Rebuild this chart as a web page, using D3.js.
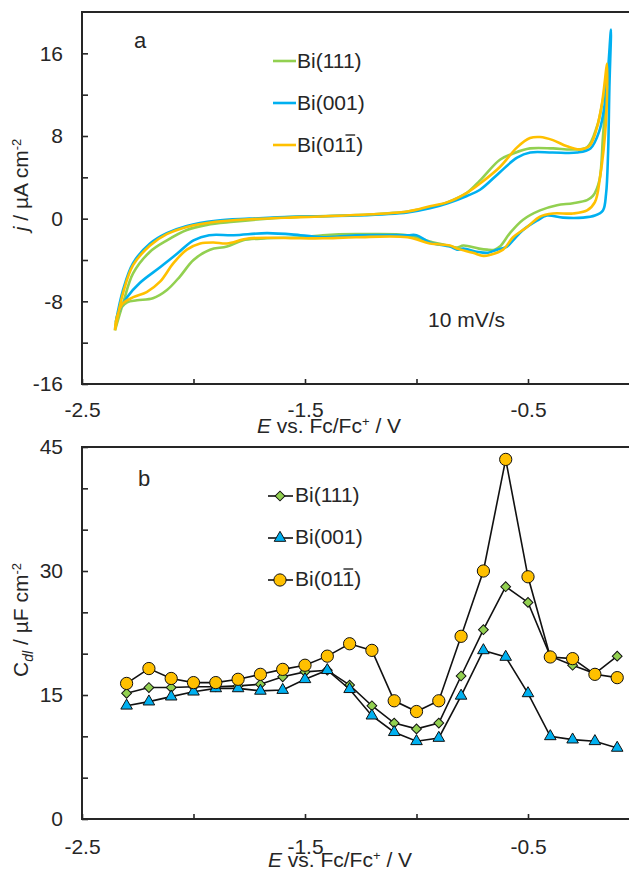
<!DOCTYPE html>
<html><head><meta charset="utf-8">
<script src="https://cdn.jsdelivr.net/npm/d3@7"></script>
<style>
body{margin:0;background:#fff;}
svg{display:block;}
text{font-family:"Liberation Sans",Arial,sans-serif;fill:#262626;}
</style></head><body>
<svg id="c" width="629" height="870"></svg>
<script>
// ---------- data ----------
const seriesNames = ["Bi(111)", "Bi(001)", "Bi(011)"];
const seriesColors = ["#92D050", "#00B0F0", "#FFC000"];

// Panel a: cyclic voltammograms [E (V), j (µA cm-2)]
const cvBi111 = [[-2.352,-10.8],[-2.316,-8.2],[-2.271,-5.3],[-2.195,-3.2],[-2.119,-2.1],[-2.03,-1.1],[-1.94,-0.6],[-1.82,-0.3],[-1.67,0.0],[-1.52,0.2],[-1.27,0.35],[-1.04,0.7],[-0.94,1.1],[-0.86,1.6],[-0.774,2.5],[-0.715,3.7],[-0.626,5.7],[-0.567,6.3],[-0.491,6.8],[-0.388,6.8],[-0.30,6.7],[-0.235,6.9],[-0.191,8.9],[-0.164,11.5],[-0.148,13.5],[-0.142,14.6],
  [-0.150,12.0],[-0.164,7.9],[-0.18,3.7],[-0.209,2.2],[-0.235,1.8],[-0.298,1.5],[-0.37,1.3],[-0.446,0.8],[-0.522,-0.1],[-0.581,-1.4],[-0.626,-2.7],[-0.65,-3.0],[-0.684,-3.0],[-0.72,-2.9],[-0.79,-2.6],[-0.818,-2.8],[-0.86,-2.6],[-0.94,-2.2],[-1.04,-1.6],[-1.27,-1.5],[-1.42,-1.6],[-1.52,-1.8],[-1.67,-1.9],[-1.78,-2.1],[-1.85,-2.7],[-1.926,-3.0],[-2.0,-4.0],[-2.061,-5.6],[-2.119,-6.9],[-2.182,-7.7],[-2.253,-7.9],[-2.298,-8.1],[-2.339,-9.2],[-2.352,-10.8]];
const cvBi001 = [[-2.348,-10.0],[-2.316,-6.9],[-2.271,-4.3],[-2.195,-2.4],[-2.12,-1.4],[-2.03,-0.7],[-1.90,-0.2],[-1.75,0.0],[-1.52,0.2],[-1.27,0.3],[-1.04,0.6],[-0.94,1.0],[-0.86,1.5],[-0.774,2.2],[-0.715,2.8],[-0.626,4.5],[-0.549,5.9],[-0.49,6.4],[-0.39,6.4],[-0.28,6.4],[-0.22,6.8],[-0.18,8.5],[-0.155,11.2],[-0.141,14.4],[-0.128,18.3],
  [-0.135,12.7],[-0.141,6.3],[-0.15,2.4],[-0.164,0.8],[-0.20,0.3],[-0.253,0.1],[-0.343,0.1],[-0.415,0.3],[-0.46,-0.2],[-0.522,-1.1],[-0.567,-2.1],[-0.594,-2.7],[-0.639,-3.0],[-0.68,-3.3],[-0.73,-3.2],[-0.79,-2.9],[-0.818,-3.0],[-0.85,-2.7],[-0.94,-2.3],[-1.0,-1.6],[-1.04,-1.6],[-1.27,-1.6],[-1.42,-1.8],[-1.52,-1.6],[-1.67,-1.4],[-1.82,-1.6],[-1.93,-1.6],[-2.00,-2.1],[-2.074,-3.4],[-2.15,-4.7],[-2.24,-6.2],[-2.298,-7.6],[-2.339,-9.2],[-2.348,-10.0]];
const cvBi011 = [[-2.352,-10.8],[-2.316,-7.2],[-2.271,-4.5],[-2.195,-2.6],[-2.12,-1.5],[-2.03,-0.8],[-1.90,-0.3],[-1.75,-0.05],[-1.52,0.15],[-1.27,0.35],[-1.04,0.7],[-0.94,1.2],[-0.86,1.6],[-0.774,2.5],[-0.715,3.4],[-0.626,5.0],[-0.549,6.9],[-0.491,7.8],[-0.446,7.9],[-0.388,7.6],[-0.325,7.0],[-0.267,6.7],[-0.222,7.1],[-0.191,8.8],[-0.168,11.2],[-0.155,13.4],[-0.146,15.0],
  [-0.150,9.5],[-0.177,4.0],[-0.20,1.6],[-0.235,0.8],[-0.298,0.5],[-0.388,0.5],[-0.446,0.2],[-0.504,-0.8],[-0.567,-1.8],[-0.612,-3.0],[-0.67,-3.5],[-0.70,-3.6],[-0.747,-3.3],[-0.818,-2.9],[-0.85,-2.6],[-0.94,-2.4],[-1.04,-1.8],[-1.27,-1.8],[-1.42,-1.9],[-1.52,-1.9],[-1.75,-1.9],[-1.85,-2.4],[-1.91,-2.3],[-1.97,-2.4],[-2.03,-3.0],[-2.09,-4.3],[-2.15,-6.1],[-2.21,-7.1],[-2.27,-7.6],[-2.316,-8.2],[-2.343,-9.5],[-2.352,-10.8]];

// Panel b: double-layer capacitance (µF cm-2)
const potentialB = [-2.3,-2.2,-2.1,-2.0,-1.9,-1.8,-1.7,-1.6,-1.5,-1.4,-1.3,-1.2,-1.1,-1.0,-0.9,-0.8,-0.7,-0.6,-0.5,-0.4,-0.3,-0.2,-0.1];
const cdlBi111 = [15.2,15.9,15.9,16.0,16.0,16.1,16.3,17.2,17.8,18.0,16.2,13.7,11.6,10.9,11.6,17.3,22.9,28.1,26.2,19.7,18.6,17.6,19.7];
const cdlBi001 = [13.7,14.2,14.8,15.4,15.8,15.8,15.5,15.6,16.9,18.0,15.7,12.5,10.5,9.4,9.8,14.9,20.4,19.6,15.2,10.0,9.6,9.4,8.6];
const cdlBi011 = [16.4,18.2,17.0,16.5,16.5,16.9,17.5,18.1,18.6,19.7,21.2,20.4,14.3,13.0,14.3,22.1,30.0,43.5,29.3,19.6,19.4,17.5,17.1];

const xTicks = [-2.5,-2.0,-1.5,-1.0,-0.5];
const xLabels = [-2.5,-1.5,-0.5];
const yTicksA = [-16,-12,-8,-4,0,4,8,12,16];
const yLabelsA = [-16,-8,0,8,16];
const yTicksB = [0,5,10,15,20,25,30,35,40,45];
const yLabelsB = [0,15,30,45];

// ---------- drawing ----------
const FONT = 21;
const INK = "#262626";
const svg = d3.select("#c");
const x = d3.scaleLinear().domain([-2.5, 0]).range([82, 639.5]);
const yA = d3.scaleLinear().domain([-16, 20]).range([384, 12]);
const yB = d3.scaleLinear().domain([0, 45]).range([819, 447]);

function styleText(sel){ sel.attr("font-family",'"Liberation Sans",Arial,sans-serif').attr("font-size",FONT).attr("fill",INK); }

function frame(y, yTicks, yLabels, xPad){
  const [b, t] = y.range();
  svg.append("rect").attr("x", x(-2.5)).attr("y", t).attr("width", x(0)-x(-2.5)).attr("height", b-t)
    .attr("fill","none").attr("stroke",INK).attr("stroke-width",2);
  const ga = svg.append("g").attr("transform",`translate(${x(-2.5)},0)`)
    .call(d3.axisLeft(y).tickValues(yTicks).tickSizeInner(-6).tickSizeOuter(0).tickPadding(19)
      .tickFormat(d => yLabels.includes(d) ? String(d) : ""));
  ga.attr("font-family",null).attr("font-size",null);
  ga.select(".domain").remove();
  ga.selectAll("line").attr("stroke",INK).attr("stroke-width",1.6);
  ga.selectAll("text").call(styleText);
  const gb = svg.append("g").attr("transform",`translate(0,${b})`)
    .call(d3.axisBottom(x).tickValues(xTicks).tickSizeInner(-5).tickSizeOuter(0).tickPadding(xPad)
      .tickFormat(d => xLabels.includes(d) ? d.toFixed(1) : ""));
  gb.attr("font-family",null).attr("font-size",null);
  gb.select(".domain").remove();
  gb.selectAll("line").attr("stroke",INK).attr("stroke-width",1.6);
  gb.selectAll("text").call(styleText);
}

function xTitle(cx, baseline){
  const t = svg.append("text").attr("x",cx).attr("y",baseline).attr("text-anchor","middle").call(styleText);
  t.append("tspan").attr("font-style","italic").text("E");
  t.append("tspan").text(" vs. Fc/Fc");
  t.append("tspan").attr("font-size",13).attr("dy",-7).text("+");
  t.append("tspan").attr("dy",7).text(" / V");
}

function overlineLegend(textSel, idx){
  const node = textSel.node();
  const p0 = node.getStartPositionOfChar(idx), p1 = node.getEndPositionOfChar(idx);
  const yb = +textSel.attr("y");
  svg.append("line").attr("x1",p0.x+1).attr("x2",p1.x-1).attr("y1",yb-17).attr("y2",yb-17)
    .attr("stroke",INK).attr("stroke-width",1.4);
}

// ===== Panel a =====
frame(yA, yTicksA, yLabelsA, 18);
const lineA = d3.line().x(d => x(d[0])).y(d => yA(d[1])).curve(d3.curveCatmullRom.alpha(0.5));
[cvBi111, cvBi001, cvBi011].forEach((cv, i) => {
  svg.append("path").attr("d", lineA(cv)).attr("fill","none")
    .attr("stroke", seriesColors[i]).attr("stroke-width",2.6).attr("stroke-linejoin","round");
});
svg.append("text").attr("x",140).attr("y",48).attr("text-anchor","middle").call(styleText).attr("font-size",22).text("a");
svg.append("text").attr("x",428).attr("y",327).call(styleText).text("10 mV/s");
const legA = [68,110,152];
seriesNames.forEach((n,i) => {
  svg.append("line").attr("x1",273).attr("x2",296).attr("y1",legA[i]-7).attr("y2",legA[i]-7)
    .attr("stroke",seriesColors[i]).attr("stroke-width",2.6);
  const t = svg.append("text").attr("x",297).attr("y",legA[i]).call(styleText).text(n);
  if(i===2) overlineLegend(t, 5);
});
xTitle(329, 433);
{
  const t = svg.append("text").attr("transform","translate(28,185) rotate(-90)").attr("text-anchor","middle").call(styleText);
  t.append("tspan").attr("font-style","italic").text("j");
  t.append("tspan").text(" / µA cm");
  t.append("tspan").attr("font-size",13).attr("dy",-7).text("-2");
}

// ===== Panel b =====
frame(yB, yTicksB, yLabelsB, 20);
const cdl = [cdlBi111, cdlBi001, cdlBi011];
const symbols = [
  d3.symbol().type(d3.symbolSquare).size(48),
  d3.symbol().type(d3.symbolTriangle).size(58),
  d3.symbol().type(d3.symbolCircle).size(118)
];
const rot = [45, 0, 0];
const lineB = d3.line().x((d,i) => x(potentialB[i])).y(d => yB(d));
cdl.forEach((vals, i) => {
  svg.append("path").attr("d", lineB(vals)).attr("fill","none").attr("stroke","#111").attr("stroke-width",1.6);
  svg.append("g").selectAll("path").data(vals).join("path")
    .attr("d", symbols[i]())
    .attr("transform", (d,k) => `translate(${x(potentialB[k])},${yB(d)}) rotate(${rot[i]})`)
    .attr("fill", seriesColors[i]).attr("stroke","#111").attr("stroke-width",1);
});
svg.append("text").attr("x",144).attr("y",486).attr("text-anchor","middle").call(styleText).attr("font-size",22).text("b");
const legB = [502,544,586];
seriesNames.forEach((n,i) => {
  svg.append("line").attr("x1",268).attr("x2",293).attr("y1",legB[i]-6).attr("y2",legB[i]-6)
    .attr("stroke","#111").attr("stroke-width",1.6);
  svg.append("path").attr("d", symbols[i]()).attr("transform",`translate(280,${legB[i]-6}) rotate(${rot[i]})`)
    .attr("fill",seriesColors[i]).attr("stroke","#111").attr("stroke-width",1);
  const t = svg.append("text").attr("x",295).attr("y",legB[i]).call(styleText).text(n);
  if(i===2) overlineLegend(t, 5);
});
xTitle(340, 867);
{
  const t = svg.append("text").attr("transform","translate(28,620) rotate(-90)").attr("text-anchor","middle").call(styleText);
  t.append("tspan").text("C");
  t.append("tspan").attr("font-style","italic").attr("font-size",14).attr("dy",5).text("dl");
  t.append("tspan").attr("dy",-5).text(" / µF cm");
  t.append("tspan").attr("font-size",13).attr("dy",-7).text("-2");
}
</script>
</body></html>
